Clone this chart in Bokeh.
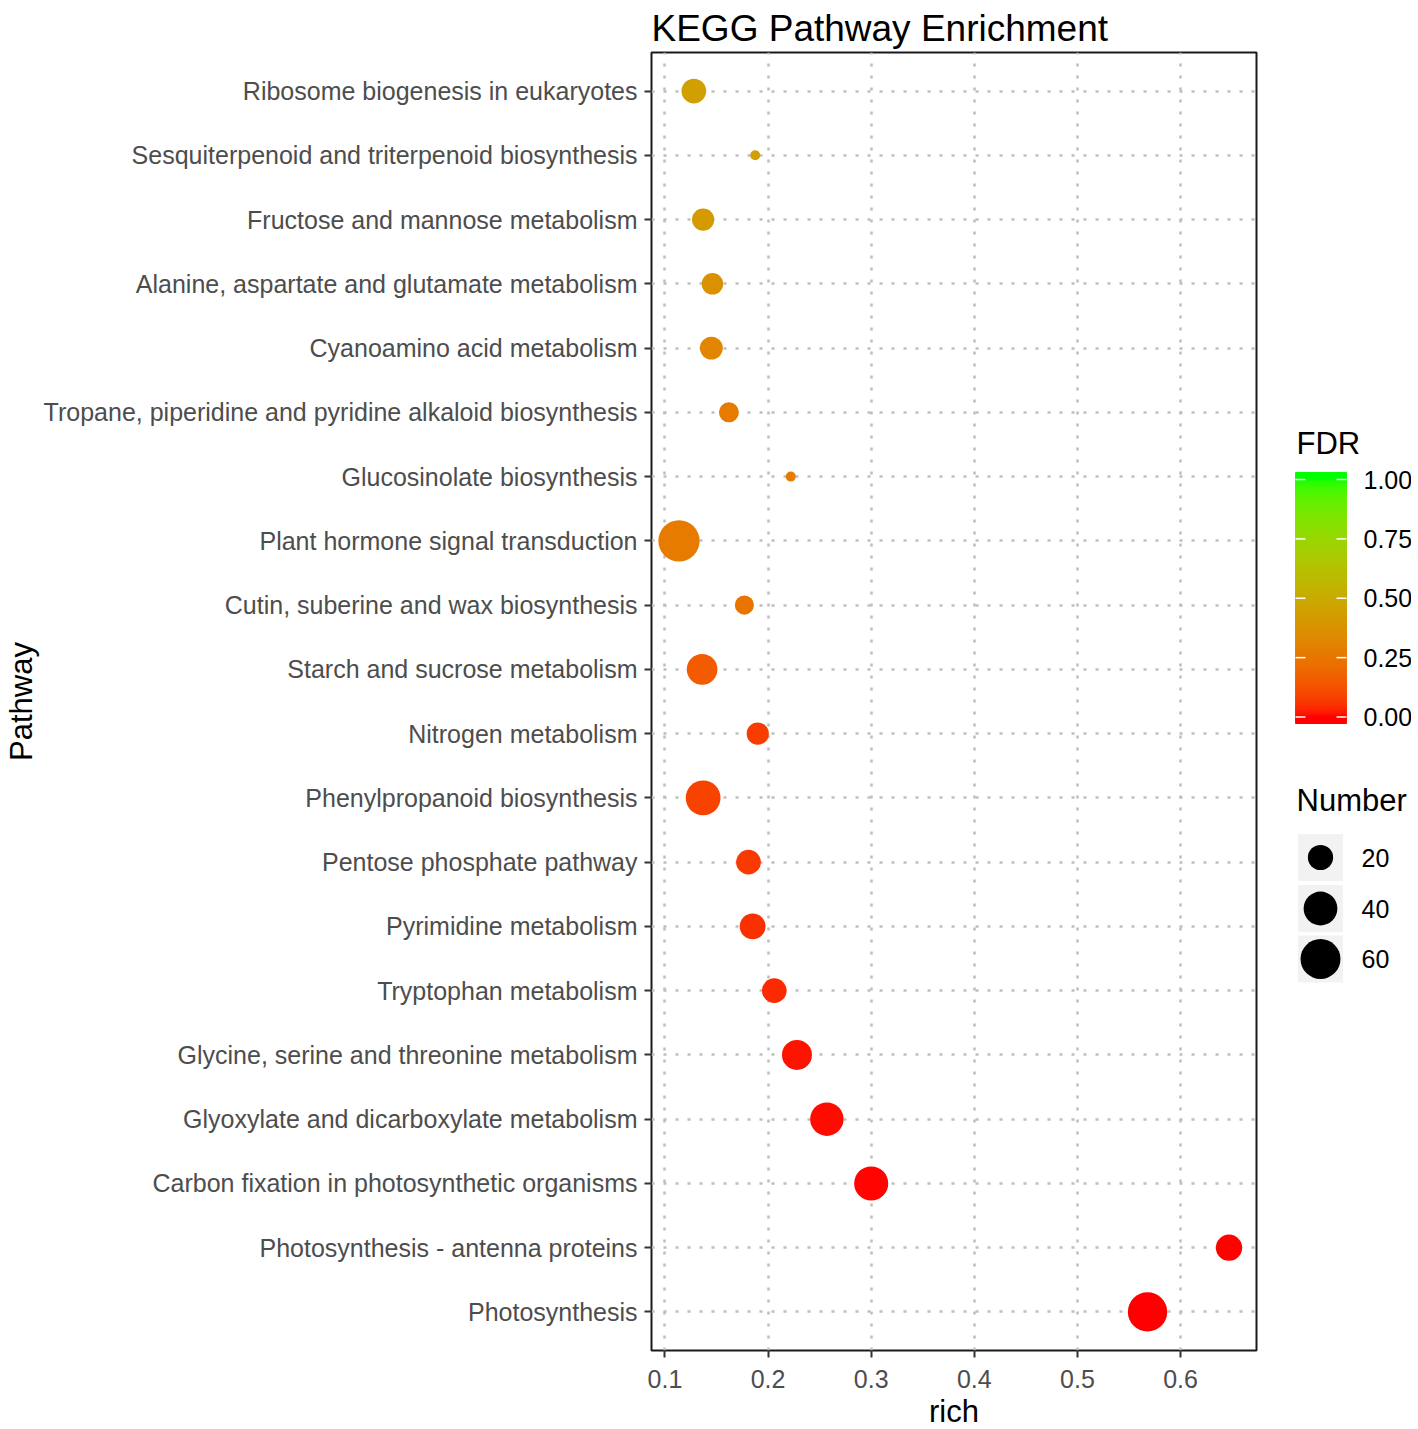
import math
from bokeh.plotting import figure
from bokeh.models import ColumnDataSource, Range1d, FactorRange, FixedTicker
from bokeh.layouts import row
from bokeh.embed import file_html
from bokeh.resources import INLINE
from bokeh.core.properties import value

# ---------------- data (top to bottom as shown) ----------------
pathways = [
    "Ribosome biogenesis in eukaryotes",
    "Sesquiterpenoid and triterpenoid biosynthesis",
    "Fructose and mannose metabolism",
    "Alanine, aspartate and glutamate metabolism",
    "Cyanoamino acid metabolism",
    "Tropane, piperidine and pyridine alkaloid biosynthesis",
    "Glucosinolate biosynthesis",
    "Plant hormone signal transduction",
    "Cutin, suberine and wax biosynthesis",
    "Starch and sucrose metabolism",
    "Nitrogen metabolism",
    "Phenylpropanoid biosynthesis",
    "Pentose phosphate pathway",
    "Pyrimidine metabolism",
    "Tryptophan metabolism",
    "Glycine, serine and threonine metabolism",
    "Glyoxylate and dicarboxylate metabolism",
    "Carbon fixation in photosynthetic organisms",
    "Photosynthesis - antenna proteins",
    "Photosynthesis",
]
rich = [0.128, 0.1875, 0.137, 0.146, 0.145, 0.162, 0.222, 0.1136, 0.177, 0.136,
        0.190, 0.137, 0.181, 0.185, 0.206, 0.228, 0.257, 0.300, 0.647, 0.568]
number = [19, 6, 15, 14, 16, 12, 6, 65, 11, 32,
          15, 43, 19, 21, 19, 30, 39, 41, 22, 58]
fdr = [0.44, 0.44, 0.41, 0.37, 0.31, 0.27, 0.27, 0.27, 0.24, 0.15,
       0.07, 0.08, 0.06, 0.045, 0.035, 0.01, 0.005, 0.002, 0.001, 0.0001]

x_ticks = [0.1, 0.2, 0.3, 0.4, 0.5, 0.6]
fdr_breaks = [0.0, 0.25, 0.5, 0.75, 1.0]
fdr_labels = ["0.00", "0.25", "0.50", "0.75", "1.00"]
size_breaks = [20, 40, 60]
size_labels = ["20", "40", "60"]

FONT = "Liberation Sans"

# ---------------- colour scale: red -> green interpolated in Lab ----------------
def _to_lin(c):
    c = c / 255.0
    return c / 12.92 if c <= 0.04045 else ((c + 0.055) / 1.055) ** 2.4

def _to_srgb(c):
    c = max(0.0, min(1.0, c))
    v = 12.92 * c if c <= 0.0031308 else 1.055 * c ** (1 / 2.4) - 0.055
    return int(round(max(0.0, min(1.0, v)) * 255))

_XN, _YN, _ZN = 0.95047, 1.0, 1.08883
_D = 6 / 29

def _f(t):
    return t ** (1 / 3) if t > _D ** 3 else t / (3 * _D ** 2) + 4 / 29

def _finv(t):
    return t ** 3 if t > _D else 3 * _D ** 2 * (t - 4 / 29)

def rgb_to_lab(rgb):
    r, g, b = (_to_lin(c) for c in rgb)
    X = 0.4124 * r + 0.3576 * g + 0.1805 * b
    Y = 0.2126 * r + 0.7152 * g + 0.0722 * b
    Z = 0.0193 * r + 0.1192 * g + 0.9505 * b
    fx, fy, fz = _f(X / _XN), _f(Y / _YN), _f(Z / _ZN)
    return (116 * fy - 16, 500 * (fx - fy), 200 * (fy - fz))

def lab_to_hex(lab):
    L, a, b = lab
    fy = (L + 16) / 116
    fx = fy + a / 500
    fz = fy - b / 200
    X, Y, Z = _XN * _finv(fx), _YN * _finv(fy), _ZN * _finv(fz)
    r = 3.2406 * X - 1.5372 * Y - 0.4986 * Z
    g = -0.9689 * X + 1.8758 * Y + 0.0415 * Z
    bb = 0.0557 * X - 0.2040 * Y + 1.0570 * Z
    return "#%02x%02x%02x" % (_to_srgb(r), _to_srgb(g), _to_srgb(bb))

LAB_LOW = rgb_to_lab((255, 0, 0))
LAB_HIGH = rgb_to_lab((0, 255, 0))

def fdr_color(t):
    t = max(0.0, min(1.0, t))
    return lab_to_hex(tuple(lo + (hi - lo) * t for lo, hi in zip(LAB_LOW, LAB_HIGH)))

NMIN, NMAX = min(number), max(number)

def size_px(n):
    return 10 + 31.3 * math.sqrt(max(0.0, (n - NMIN) / (NMAX - NMIN)))

# ---------------- main panel ----------------
span = max(rich) - min(rich)
x_lo, x_hi = min(rich) - 0.05 * span, max(rich) + 0.05 * span

src = ColumnDataSource(dict(
    pathway=pathways, rich=rich, number=number, fdr=fdr,
    size=[size_px(n) for n in number],
    color=[fdr_color(v) for v in fdr],
))

FRAME_H = 1298
TOP, BOTTOM = 52, 73
p = figure(
    y_range=FactorRange(factors=pathways[::-1], range_padding=0.1, range_padding_units="absolute"),
    x_range=Range1d(x_lo, x_hi),
    frame_width=605, frame_height=FRAME_H,
    min_border_left=642, min_border_right=2, min_border_top=TOP, min_border_bottom=BOTTOM,
    output_backend="svg", toolbar_location=None,
    title="KEGG Pathway Enrichment",
)
p.title.text_font = FONT
p.title.text_font_size = "37px"
p.title.text_font_style = "normal"
p.title.text_color = "black"
p.title.align = "left"
p.title.standoff = 8

p.scatter(x="rich", y="pathway", size="size", fill_color="color", line_color="color",
          line_width=0, source=src)

p.xaxis.ticker = FixedTicker(ticks=x_ticks)
p.xaxis.minor_tick_line_color = None
for ax in (p.xaxis, p.yaxis):
    ax.axis_line_color = None
    ax.major_tick_out = 7
    ax.major_tick_in = 0
    ax.major_tick_line_color = "#333333"
    ax.major_tick_line_width = 2
    ax.major_label_text_font = FONT
    ax.major_label_text_font_size = "25px"
    ax.major_label_text_color = "#4D4D4D"
    ax.axis_label_text_font = FONT
    ax.axis_label_text_font_size = "31px"
    ax.axis_label_text_font_style = "normal"
    ax.axis_label_text_color = "black"
p.xaxis.axis_label = "rich"
p.yaxis.axis_label = "Pathway"
p.xaxis.major_label_standoff = 12
p.xaxis.axis_label_standoff = 3
p.yaxis.major_label_standoff = 7
p.yaxis.axis_label_standoff = 2

for g in (p.xgrid, p.ygrid):
    g.grid_line_color = "#BEBEBE"
    g.grid_line_dash = "3 9"
    g.grid_line_width = 2.5
p.outline_line_color = "#1A1A1A"
p.outline_line_width = 2
p.background_fill_color = "white"
p.border_fill_color = "white"

# ---------------- legend panel (y measured in px from the panel's top) ----------------
LW = 153
lg = figure(frame_width=LW, frame_height=FRAME_H, x_range=Range1d(0, LW),
            y_range=Range1d(FRAME_H, 0),
            x_axis_type=None, y_axis_type=None,
            min_border_left=0, min_border_right=0, min_border_top=TOP, min_border_bottom=BOTTOM,
            output_backend="svg", toolbar_location=None)
lg.grid.visible = False
lg.outline_line_color = None

OFF = -TOP  # reference-picture y -> legend y
BAR_L, BAR_R = 37, 88
Y0, Y1 = 716.5 + OFF, 479 + OFF  # positions of FDR 0 and 1
BAR_BOT, BAR_TOP = 723 + OFF, 472 + OFF
N = 250
ys = [BAR_TOP + (BAR_BOT - BAR_TOP) * i / N for i in range(N + 1)]
strip_cols = [fdr_color((Y0 - 0.5 * (ys[i] + ys[i + 1])) / (Y0 - Y1)) for i in range(N)]
lg.quad(left=BAR_L, right=BAR_R, top=ys[:-1], bottom=ys[1:], fill_color=strip_cols,
        line_color=strip_cols, line_width=1)

tick_y = [Y0 - v * (Y0 - Y1) for v in fdr_breaks]
lg.segment(x0=BAR_L, x1=BAR_L + 10, y0=tick_y, y1=tick_y, line_color="white", line_width=1.5)
lg.segment(x0=BAR_R - 10, x1=BAR_R, y0=tick_y, y1=tick_y, line_color="white", line_width=1.5)
lg.text(x=105, y=tick_y, text=fdr_labels, text_font=value(FONT), text_font_size="25px",
        text_baseline="middle", text_align="left", text_color="black")
lg.text(x=38, y=443 + OFF, text=["FDR"], text_font=value(FONT), text_font_size="31px",
        text_baseline="middle", text_align="left", text_color="black")

key_y = [857 + OFF, 908 + OFF, 958.5 + OFF]
lg.text(x=38, y=800 + OFF, text=["Number"], text_font=value(FONT), text_font_size="31px",
        text_baseline="middle", text_align="left", text_color="black")
lg.rect(x=62, y=key_y, width=48, height=50, fill_color="#F2F2F2", line_color="white",
        line_width=3)
lg.scatter(x=62, y=key_y, size=[size_px(n) for n in size_breaks], fill_color="black",
           line_color="black", line_width=0)
lg.text(x=103, y=key_y, text=size_labels, text_font=value(FONT), text_font_size="25px",
        text_baseline="middle", text_align="left", text_color="black")

layout = row(p, lg, spacing=0)
open("out.html", "w").write(file_html(layout, INLINE))
